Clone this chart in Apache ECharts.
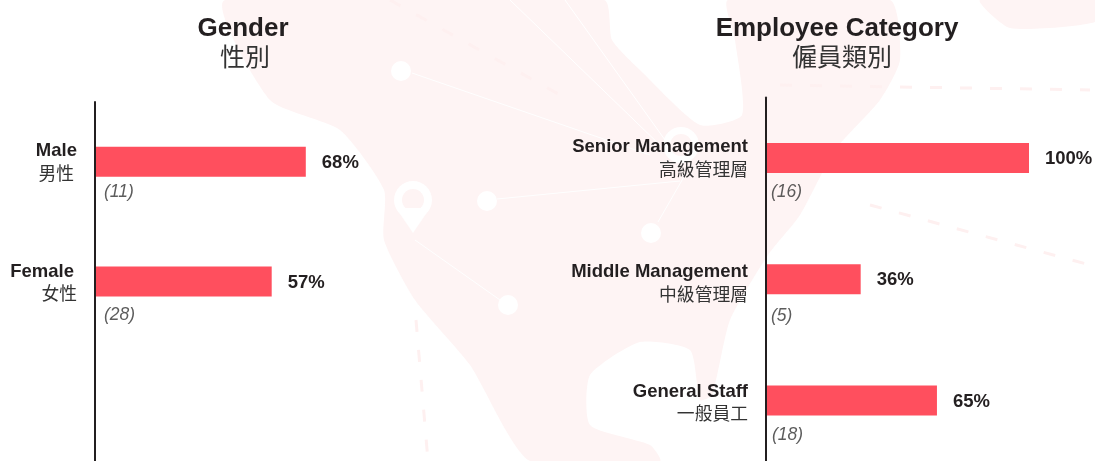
<!DOCTYPE html>
<html><head><meta charset="utf-8">
<style>html,body{margin:0;padding:0;background:#fff;overflow:hidden}#c{width:1095px;height:461px}</style>
<script src="https://cdn.jsdelivr.net/npm/echarts@6/dist/echarts.min.js"></script>
</head><body><div id="c"></div>
<script>
const genderEn = ['Male', 'Female', ''];
const genderZh = ['男性', '女性', ''];
const genderPct = [68, 57, null];
const genderN = ['(11)', '(28)', ''];
const staffEn = ['Senior Management', 'Middle Management', 'General Staff'];
const staffZh = ['高級管理層', '中級管理層', '一般員工'];
const staffPct = [100, 36, 65];
const staffN = ['(16)', '(5)', '(18)'];

const INK = '#231f20', RED = '#ff4f5e', PINK = '#fef4f4', EN = '"Liberation Sans", Arial, sans-serif', ZH = '"Noto Sans CJK TC", sans-serif';
const chart = echarts.init(document.getElementById('c'), null, {renderer: 'canvas'});

function poly(points, fill) {
  return {type: 'polygon', silent: true, z: -10, shape: {points, smooth: 0.2}, style: {fill}};
}
function dot(cx, cy, r) { return {type: 'circle', silent: true, z: -9, shape: {cx, cy, r}, style: {fill: '#fff'}}; }
function seg(x1, y1, x2, y2) { return {type: 'line', silent: true, z: -9, shape: {x1, y1, x2, y2}, style: {stroke: '#fff', lineWidth: 1}}; }
function dash(x1, y1, x2, y2) { return {type: 'line', silent: true, z: -9, shape: {x1, y1, x2, y2}, style: {stroke: '#fef0f0', lineWidth: 3, lineDash: [12, 18]}}; }

const backdrop = [
  poly([[225,0],[604,0],[612,40],[640,70],[700,125],[742,115],[735,40],[728,0],[890,0],[900,60],[880,100],[835,150],[800,215],[768,255],[730,320],[712,395],[700,400],[690,350],[640,342],[590,375],[590,425],[650,445],[660,461],[530,461],[470,365],[415,300],[384,240],[384,190],[340,130],[270,100]], PINK),
  poly([[980,0],[1095,0],[1095,22],[1010,28]], PINK),
  dot(401,71,10), dot(487,201,10), dot(651,233,10), dot(508,305,10),
  {type: 'ring', silent: true, z: -9, shape: {cx: 413, cy: 200, r: 19, r0: 11}, style: {fill: '#fff'}},
  {type: 'polygon', silent: true, z: -9, shape: {points: [[396,208],[430,208],[413,233]]}, style: {fill: '#fff'}},
  {type: 'ring', silent: true, z: -9, shape: {cx: 681, cy: 145, r: 18, r0: 11}, style: {fill: '#fff'}},
  seg(412,73,650,155), seg(497,199,680,181), seg(415,240,500,300), seg(658,222,685,175),
  seg(510,0,665,150), seg(565,0,665,140),
  dash(390,0,560,95), dash(780,85,1090,90), dash(870,205,1090,265), dash(416,320,428,461)
];

function catLabel(en, zh, enRight, zhRight, shift) {
  const rich = {};
  en.forEach((_, i) => {
    rich['s' + i] = {fontSize: 1, lineHeight: 2 * shift[i]};
    rich['e' + i] = {fontSize: 18.5, fontWeight: 'bold', fontFamily: EN, color: INK, lineHeight: 22, align: 'right', padding: [0, enRight[i], 0, 0]};
    rich['z' + i] = {fontSize: 17.8, fontWeight: 'normal', fontFamily: ZH, color: '#333', lineHeight: 22, align: 'right', padding: [0, zhRight[i], 0, 0]};
  });
  return {
    formatter: (_, i) => en[i] ? `${shift[i] ? `{s${i}| }\n` : ''}{e${i}|${en[i]}}\n{z${i}|${zh[i]}}` : '',
    margin: 18, align: 'right', verticalAlign: 'middle', rich
  };
}

function barSeries(ax, values) {
  return {
    type: 'bar', xAxisIndex: ax, yAxisIndex: ax, data: values, barWidth: 30, silent: true,
    itemStyle: {color: RED},
    label: {show: true, position: 'right', distance: 16, offset: [0, 1], formatter: p => p.value == null ? '' : p.value + '%',
      fontSize: 18.5, fontWeight: 'bold', fontFamily: EN, color: INK}
  };
}
function nSeries(ax, labels, xo, yo) {
  return {
    type: 'scatter', xAxisIndex: ax, yAxisIndex: ax, symbolSize: 0, silent: true,
    data: labels.map((t, i) => ({value: [0, i], name: t,
      label: {show: true, position: 'right', distance: 0, offset: [xo[i], yo[i]], formatter: t,
        fontSize: 17.5, fontStyle: 'italic', fontFamily: EN, color: '#333'}}))
  };
}
function head(text, x, y, size, weight, fam, color) {
  return {text, left: x, top: y - size * 0.65, padding: 0, textAlign: 'center',
    textStyle: {fontSize: size, fontWeight: weight, fontFamily: fam, color}};
}

const option = {
  animation: false, backgroundColor: '#fff',
  graphic: {elements: backdrop},
  title: [
    head('Gender', 243, 33, 26, 'bold', EN, INK),
    head('性別', 245, 60, 25, 'normal', ZH, '#333'),
    head('Employee Category', 837, 33, 26, 'bold', EN, INK),
    head('僱員類別', 842, 60, 25, 'normal', ZH, '#333')
  ],
  grid: [
    {left: 95, top: 102, width: 310, height: 363},
    {left: 766, top: 97.5, width: 263, height: 367}
  ],
  xAxis: [
    {gridIndex: 0, type: 'value', min: 0, max: 100, show: false},
    {gridIndex: 1, type: 'value', min: 0, max: 100, show: false}
  ],
  yAxis: [
    {gridIndex: 0, type: 'category', inverse: true, data: genderEn, z: 5,
      axisLine: {lineStyle: {color: INK, width: 2}}, axisTick: {show: false}, splitLine: {show: false},
      axisLabel: catLabel(genderEn, genderZh, [0, 3, 0], [3, 0, 0], [0, 1, 0])},
    {gridIndex: 1, type: 'category', inverse: true, data: staffEn, z: 5,
      axisLine: {lineStyle: {color: INK, width: 2}}, axisTick: {show: false}, splitLine: {show: false},
      axisLabel: catLabel(staffEn, staffZh, [0, 0, 0], [0, 0, 0], [0, 4, 2])}
  ],
  series: [
    barSeries(0, genderPct), barSeries(1, staffPct),
    nSeries(0, genderN, [9, 9, 0], [30, 34, 0]), nSeries(1, staffN, [5, 5, 6], [34, 37, 35])
  ]
};
chart.setOption(option);
</script></body></html>
